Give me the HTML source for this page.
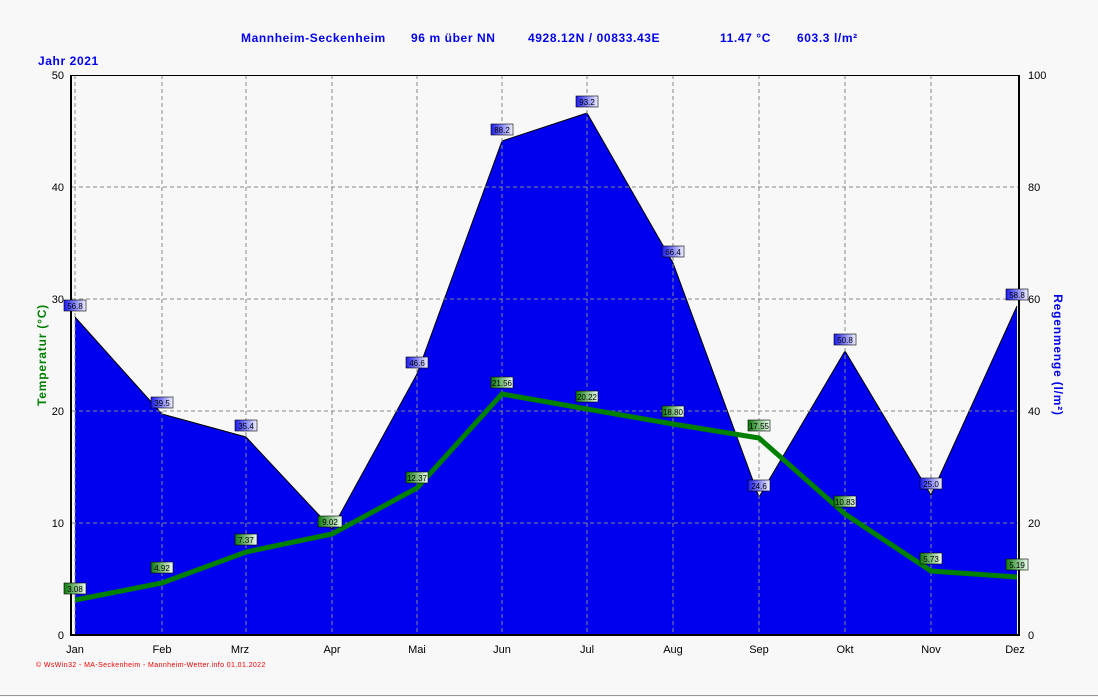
<!DOCTYPE html><html><head><style>body{margin:0;background:#f8f8f8}svg{display:block;font-family:"Liberation Sans",sans-serif}</style></head><body>
<svg width="1098" height="697" xmlns="http://www.w3.org/2000/svg">
<defs>
<linearGradient id="gb" x1="0" x2="1" y1="0" y2="0"><stop offset="0" stop-color="#1a1aee"/><stop offset="1" stop-color="#f0f0ff"/></linearGradient>
<linearGradient id="gg" x1="0" x2="1" y1="0" y2="0"><stop offset="0" stop-color="#0a7a0a"/><stop offset="1" stop-color="#f0fff0"/></linearGradient>
</defs>
<rect width="1098" height="697" fill="#f8f8f8"/>
<line x1="0" y1="695.5" x2="1098" y2="695.5" stroke="#999"/>
<g font-size="12" font-weight="bold" fill="#0000ee" letter-spacing="0.6">
<text x="241" y="42">Mannheim-Seckenheim</text><text x="411" y="42">96 m über NN</text><text x="528" y="42">4928.12N / 00833.43E</text><text x="720" y="42">11.47 °C</text><text x="797" y="42">603.3 l/m²</text>
<text x="38" y="65">Jahr  2021</text></g>
<polygon fill="#0000ee" points="75,635 75,317 162,414 246,437 332,529 417,374 502,141 587,113 673,263 759,497 845,351 931,495 1017,306 1017,635"/>
<polyline fill="none" stroke="#000" stroke-width="1" points="75,317 162,414 246,437 332,529 417,374 502,141 587,113 673,263 759,497 845,351 931,495 1017,306"/>
<g stroke="#888" stroke-dasharray="4,3">
<path d="M75,75V635M162,75V635M246,75V635M332,75V635M417,75V635M502,75V635M587,75V635M673,75V635M759,75V635M845,75V635M931,75V635"/>
<path d="M72,187H1019M72,299H1019M72,411H1019M72,523H1019"/></g>
<polyline fill="none" stroke="#008000" stroke-width="5" points="75,600 162,583 246,552 332,534 417,488 502,394 587,409 673,424 759,438 845,514 931,571 1017,577"/>
<line x1="72" y1="75.5" x2="1019" y2="75.5" stroke="#000"/>
<line x1="72" y1="635" x2="1019" y2="635" stroke="#000" stroke-width="2"/>
<line x1="71" y1="75" x2="71" y2="636" stroke="#000" stroke-width="2"/>
<line x1="1019" y1="75" x2="1019" y2="636" stroke="#000" stroke-width="2"/>
<g font-size="11" fill="#000" text-anchor="end"><text x="64" y="79">50</text><text x="64" y="191">40</text><text x="64" y="303">30</text><text x="64" y="415">20</text><text x="64" y="527">10</text><text x="64" y="639">0</text></g>
<g font-size="11" fill="#000"><text x="1028" y="79">100</text><text x="1028" y="191">80</text><text x="1028" y="303">60</text><text x="1028" y="415">40</text><text x="1028" y="527">20</text><text x="1028" y="639">0</text></g>
<g font-size="11" fill="#000" text-anchor="middle"><text x="75" y="653">Jan</text><text x="162" y="653">Feb</text><text x="240" y="653">Mrz</text><text x="332" y="653">Apr</text><text x="417" y="653">Mai</text><text x="502" y="653">Jun</text><text x="587" y="653">Jul</text><text x="673" y="653">Aug</text><text x="759" y="653">Sep</text><text x="845" y="653">Okt</text><text x="931" y="653">Nov</text><text x="1015" y="653">Dez</text></g>
<text transform="translate(46,355) rotate(-90)" font-size="12" font-weight="bold" fill="#008000" text-anchor="middle" letter-spacing="0.8">Temperatur  (°C)</text>
<text transform="translate(1054,355) rotate(90)" font-size="12" font-weight="bold" fill="#0000ee" text-anchor="middle" letter-spacing="0.8">Regenmenge  (l/m²)</text>
<g font-size="8" text-anchor="middle" fill="#000">
<g fill="url(#gb)" stroke="#000" stroke-width="0.6">
<rect x="64" y="300" width="22" height="11"/><rect x="151" y="397" width="22" height="11"/><rect x="235" y="420" width="22" height="11"/><rect x="406" y="357" width="22" height="11"/><rect x="491" y="124" width="22" height="11"/><rect x="576" y="96" width="22" height="11"/><rect x="662" y="246" width="22" height="11"/><rect x="748" y="480" width="22" height="11"/><rect x="834" y="334" width="22" height="11"/><rect x="920" y="478" width="22" height="11"/><rect x="1006" y="289" width="22" height="11"/></g>
<text x="75" y="309">56.8</text><text x="162" y="406">39.5</text><text x="246" y="429">35.4</text><text x="417" y="366">46.6</text><text x="502" y="133">88.2</text><text x="587" y="105">93.2</text><text x="673" y="255">66.4</text><text x="759" y="489">24.6</text><text x="845" y="343">50.8</text><text x="931" y="487">25.0</text><text x="1017" y="298">58.8</text>
<g fill="url(#gg)" stroke="#000" stroke-width="0.6">
<rect x="64" y="583" width="22" height="11"/><rect x="151" y="562" width="22" height="11"/><rect x="235" y="534" width="22" height="11"/><rect x="318" y="516" width="24" height="11"/><rect x="406" y="472" width="22" height="11"/><rect x="491" y="377" width="22" height="11"/><rect x="576" y="391" width="22" height="11"/><rect x="662" y="406" width="22" height="11"/><rect x="748" y="420" width="22" height="11"/><rect x="834" y="496" width="22" height="11"/><rect x="920" y="553" width="22" height="11"/><rect x="1006" y="559" width="22" height="11"/></g>
<text x="75" y="592">3.08</text><text x="162" y="571">4.92</text><text x="246" y="543">7.37</text><text x="330" y="525">9.02</text><text x="417" y="481">12.37</text><text x="502" y="386">21.56</text><text x="587" y="400">20.22</text><text x="673" y="415">18.80</text><text x="759" y="429">17.55</text><text x="845" y="505">10.83</text><text x="931" y="562">5.73</text><text x="1017" y="568">5.19</text></g>
<text x="36" y="667" font-size="7" fill="#ee0000" letter-spacing="0.4">© WsWin32 - MA-Seckenheim - Mannheim-Wetter.info  01.01.2022</text>
</svg></body></html>
